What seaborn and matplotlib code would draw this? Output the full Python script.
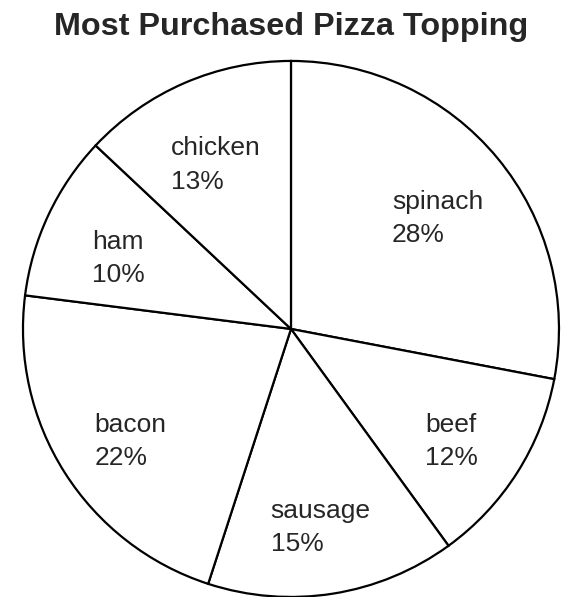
import numpy as np
import matplotlib.pyplot as plt
import seaborn as sns

sns.set_style("white")
plt.rcParams['font.family'] = ['Liberation Sans', 'DejaVu Sans']

# data, clockwise from 12 o'clock
toppings = ['spinach', 'beef', 'sausage', 'bacon', 'ham', 'chicken']
percents = [28, 12, 15, 22, 10, 13]

labels = [t + '\n' + str(p) + '%' for t, p in zip(toppings, percents)]

fig = plt.figure(figsize=(5.66, 5.97), dpi=100)
# pie circle: centre ~(291, 329) px, radius ~268 px
ax = fig.add_axes([0.0406, 0.0, 0.947, 0.898])

wedges, texts = ax.pie(percents, labels=labels, startangle=90, counterclock=False,
                       colors=['white'] * len(percents), labeldistance=0.71,
                       wedgeprops=dict(edgecolor='black', linewidth=1.6),
                       textprops=dict(fontsize=19))
for w in wedges:
    w.set_clip_on(False)
for t in texts:
    x, y = t.get_position()
    t.set_position((x, y - 0.04))  # labels sit a bit low in the original
    t.set_horizontalalignment('center')
    t.set_multialignment('left')
    t.set_linespacing(1.5)

ax.set_xlim(-1, 1)
ax.set_ylim(-1, 1)
ax.set_aspect('equal')
ax.axis('off')

fig.text(0.515, 0.941, 'Most Purchased Pizza Topping', fontsize=23.3, fontweight='bold',
         ha='center', va='baseline')

plt.savefig('out.png', dpi=100)
